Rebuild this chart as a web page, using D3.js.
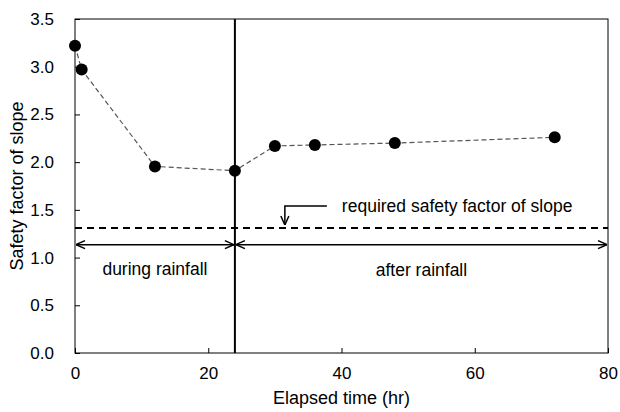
<!DOCTYPE html>
<html>
<head>
<meta charset="utf-8">
<script src="https://cdn.jsdelivr.net/npm/d3@7"></script>
<style>
  body { margin: 0; background: #fff; }
  svg text { font-family: "Liberation Sans", Arial, sans-serif; fill: #000; }
  .axis path, .axis line { stroke: #000; stroke-width: 1; }
  .axis text { font-size: 17px; }
</style>
</head>
<body>
<div id="chart"></div>
<script>
// elapsed time (hr) and safety factor readings
var hours = [0, 1, 12, 24, 30, 36, 48, 72];
var safety = [3.22, 2.97, 1.955, 1.91, 2.17, 2.18, 2.20, 2.26];
var xTicks = [0, 20, 40, 60, 80];
var yTicks = [0, 0.5, 1, 1.5, 2, 2.5, 3, 3.5];
var requiredFactor = 1.31;
var rainEnd = 24;
var arrowLevel = 1.135;

var margin = { top: 19, right: 12, bottom: 59, left: 75 },
  w = 620 - margin.left - margin.right,
  h = 412 - margin.top - margin.bottom;

var svg = d3.select('#chart').append('svg')
  .attr('width', 620)
  .attr('height', 412);

var defs = svg.append('defs');
function marker(id, path) {
  defs.append('marker')
    .attr('id', id)
    .attr('viewBox', '0 0 10 10')
    .attr('refX', 10).attr('refY', 5)
    .attr('markerWidth', 10).attr('markerHeight', 10)
    .attr('markerUnits', 'userSpaceOnUse')
    .attr('orient', 'auto-start-reverse')
    .append('path')
    .attr('d', path)
    .attr('fill', 'none')
    .attr('stroke', '#000')
    .attr('stroke-width', 1.5);
}
marker('arr', 'M1,1 L10,5 L1,9');

var g = svg.append('g')
  .attr('transform', 'translate(' + margin.left + ',' + margin.top + ')');

var x = d3.scaleLinear().domain([0, 80]).range([0, w]);
var y = d3.scaleLinear().domain([0, 3.5]).range([h, 0]);

// frame
g.append('rect')
  .attr('width', w).attr('height', h)
  .attr('fill', 'none').attr('stroke', '#000').attr('stroke-width', 1);

// axes, ticks pointing inward
g.append('g')
  .attr('class', 'axis')
  .attr('transform', 'translate(0,' + h + ')')
  .call(d3.axisBottom(x).tickValues(xTicks).tickSizeInner(-5).tickSizeOuter(0).tickPadding(14))
  .call(function(s) { s.select('.domain').remove(); });

g.append('g')
  .attr('class', 'axis')
  .call(d3.axisLeft(y).tickValues(yTicks).tickFormat(d3.format('.1f')).tickSizeInner(-5).tickSizeOuter(0).tickPadding(21))
  .call(function(s) { s.select('.domain').remove(); });

// axis titles
g.append('text')
  .attr('x', w / 2).attr('y', h + 51)
  .attr('text-anchor', 'middle')
  .style('font-size', '18px')
  .text('Elapsed time (hr)');

g.append('text')
  .attr('transform', 'rotate(-90)')
  .attr('x', -h / 2).attr('y', -52)
  .attr('text-anchor', 'middle')
  .style('font-size', '18px')
  .text('Safety factor of slope');

// required safety factor line
g.append('line')
  .attr('x1', 0).attr('x2', w)
  .attr('y1', y(requiredFactor)).attr('y2', y(requiredFactor))
  .attr('stroke', '#000').attr('stroke-width', 2)
  .attr('stroke-dasharray', '7,5');

// end of rainfall
g.append('line')
  .attr('x1', x(rainEnd)).attr('x2', x(rainEnd))
  .attr('y1', 0).attr('y2', h)
  .attr('stroke', '#000').attr('stroke-width', 2);

// period arrows
[[0, rainEnd], [rainEnd, 80]].forEach(function(p) {
  g.append('line')
    .attr('x1', x(p[0]) + 1).attr('x2', x(p[1]) - 1)
    .attr('y1', y(arrowLevel)).attr('y2', y(arrowLevel))
    .attr('stroke', '#000').attr('stroke-width', 1.5)
    .attr('marker-start', 'url(#arr)')
    .attr('marker-end', 'url(#arr)');
});

g.append('text')
  .attr('x', x(rainEnd / 2)).attr('y', y(arrowLevel) + 30)
  .attr('text-anchor', 'middle').style('font-size', '17.5px')
  .text('during rainfall');

g.append('text')
  .attr('x', x((rainEnd + 80) / 2)).attr('y', y(arrowLevel) + 31)
  .attr('text-anchor', 'middle').style('font-size', '17.5px')
  .text('after rainfall');

// label with leader
var lx = x(31.5), ly = y(requiredFactor) - 22;
g.append('path')
  .attr('d', 'M' + (lx + 42) + ',' + ly + ' H' + lx + ' V' + (y(requiredFactor) - 3))
  .attr('fill', 'none').attr('stroke', '#000').attr('stroke-width', 1.5)
  .attr('marker-end', 'url(#arr)');

g.append('text')
  .attr('x', lx + 57).attr('y', ly + 6)
  .style('font-size', '17.5px')
  .text('required safety factor of slope');

// data line and points
var pts = hours.map(function(d, i) { return [d, safety[i]]; });
g.append('path')
  .datum(pts)
  .attr('fill', 'none')
  .attr('stroke', '#555')
  .attr('stroke-width', 1.2)
  .attr('stroke-dasharray', '5,3')
  .attr('d', d3.line().x(function(d) { return x(d[0]); }).y(function(d) { return y(d[1]); }));

g.selectAll('.pt')
  .data(pts)
  .enter().append('circle')
  .attr('class', 'pt')
  .attr('cx', function(d) { return x(d[0]); })
  .attr('cy', function(d) { return y(d[1]); })
  .attr('r', 6)
  .attr('fill', '#000');
</script>
</body>
</html>
